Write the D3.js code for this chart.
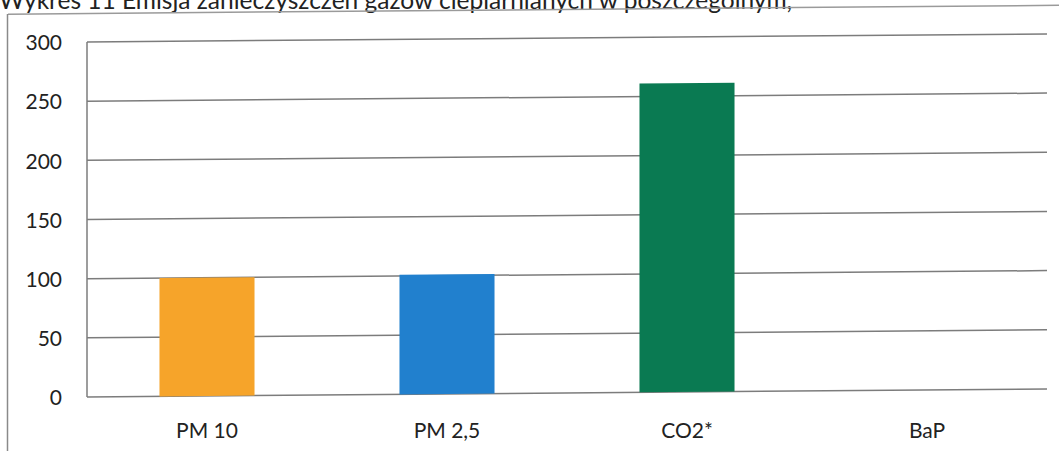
<!DOCTYPE html>
<html>
<head>
<meta charset="utf-8">
<script src="https://cdn.jsdelivr.net/npm/d3@7/dist/d3.min.js"></script>
<style>
  html, body { margin: 0; padding: 0; background: #fff; }
  svg { display: block; }
  text { font-family: Lato, "Open Sans", sans-serif; fill: #222; }
</style>
</head>
<body>
<svg id="chart" width="1059" height="451"></svg>
<script>
const titleText = "Wykres 11 Emisja zanieczyszczeń gazów cieplarnianych w poszczególnym,";
const categories = ["PM 10", "PM 2,5", "CO2*", "BaP"];
const values = [100, 101, 261, 0];
const barColors = ["#F6A42A", "#2180CE", "#0A7A52"];
const yTicks = [0, 50, 100, 150, 200, 250, 300];

const W = 1059, H = 451;
const plot = { left: 87, right: 1047, top: 42, bottom: 397 };

const svg = d3.select("#chart");

// title (partly cropped by the top edge, as in the scan)
svg.append("text")
  .attr("x", -1).attr("y", 9)
  .attr("font-size", 24.5)
  .attr("fill", "#1a1a1a")
  .text(titleText);

// slight scan skew
const g = svg.append("g")
  .attr("transform", `translate(${plot.left},${plot.bottom}) skewY(-0.48) translate(${-plot.left},${-plot.bottom})`);

// outer chart frame
g.append("line").attr("x1", 8).attr("x2", W + 10).attr("y1", 13.5).attr("y2", 13.5)
  .attr("stroke", "#9a9a9a").attr("stroke-width", 1.5);
svg.append("line").attr("x1", 7.5).attr("x2", 7.5).attr("y1", 14).attr("y2", H)
  .attr("stroke", "#8a8a8a").attr("stroke-width", 1.5);

const x = d3.scaleBand().domain(categories).range([plot.left, plot.right]).paddingInner(0.604).paddingOuter(0.302);
const y = d3.scaleLinear().domain([0, 300]).range([plot.bottom, plot.top]);

// gridlines
g.append("g").selectAll("line").data(yTicks).join("line")
  .attr("x1", plot.left).attr("x2", plot.right)
  .attr("y1", d => y(d)).attr("y2", d => y(d))
  .attr("stroke", "#7c7c7c").attr("stroke-width", 1.5);

// vertical axis line
svg.append("line").attr("x1", plot.left).attr("x2", plot.left)
  .attr("y1", y(300)).attr("y2", y(0))
  .attr("stroke", "#7c7c7c").attr("stroke-width", 1.5);

// y tick labels
const yAxis = d3.axisLeft(y).tickValues(yTicks).tickSize(0).tickPadding(0);
const ya = svg.append("g").attr("transform", "translate(62,1)").call(yAxis);
ya.select(".domain").remove();
ya.selectAll("text").attr("font-size", 21).attr("fill", "#222").style("font-family", "Lato, 'Open Sans', sans-serif");

// bars
g.append("g").selectAll("rect").data(values.map((v, i) => ({ c: categories[i], v, i })).filter(d => d.v > 0)).join("rect")
  .attr("x", d => x(d.c))
  .attr("width", x.bandwidth())
  .attr("y", d => y(d.v))
  .attr("height", d => y(0) - y(d.v))
  .attr("fill", d => barColors[d.i]);

// x labels
const xAxis = d3.axisBottom(x).tickSize(0).tickPadding(0);
const xa = svg.append("g").attr("transform", "translate(0,423)").call(xAxis);
xa.select(".domain").remove();
xa.selectAll("text").attr("font-size", 21).attr("fill", "#222").attr("dy", "0.71em").style("font-family", "Lato, 'Open Sans', sans-serif");
</script>
</body>
</html>
